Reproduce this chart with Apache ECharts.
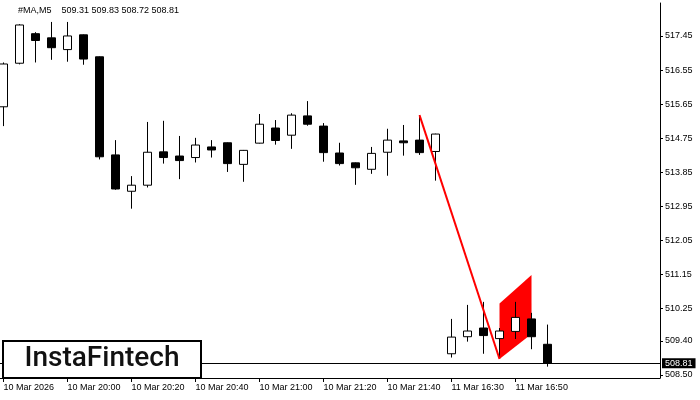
<!DOCTYPE html>
<html><head><meta charset="utf-8">
<script src="https://cdn.jsdelivr.net/npm/echarts@6/dist/echarts.min.js"></script>
<style>html,body{margin:0;padding:0;background:#fff}#c{width:700px;height:400px}</style>
</head><body><div id="c"></div>
<script>
// ---- data ----
const opens  = [515.58,516.73,517.51,517.40,517.09,517.48,516.90,514.31,513.35,513.51,514.39,514.28,514.24,514.52,514.63,514.06,514.62,515.02,514.83,515.34,515.07,514.36,514.10,513.93,514.38,514.68,514.70,514.40,509.06,509.51,509.74,509.46,509.65,509.98,509.31];
const closes = [516.71,517.74,517.33,517.14,517.45,516.84,514.26,513.41,513.51,514.38,514.24,514.16,514.57,514.44,514.08,514.43,515.12,514.69,515.36,515.12,514.37,514.08,513.97,514.35,514.70,514.63,514.37,514.86,509.50,509.66,509.54,509.66,510.02,509.51,508.81];
const lows   = [515.07,516.70,516.75,516.82,516.77,516.69,514.19,513.39,512.89,513.45,514.08,513.67,514.11,514.24,513.86,513.60,514.61,514.58,514.47,515.08,514.13,514.03,513.52,513.81,513.76,514.29,514.31,513.63,508.96,509.38,509.06,508.95,509.45,509.18,508.72];
const highs  = [516.75,517.76,517.55,517.82,517.82,517.49,516.91,514.70,513.75,515.18,515.21,514.81,514.76,514.70,514.64,514.44,515.39,515.23,515.41,515.73,515.15,514.63,514.11,514.52,515.00,515.10,515.36,514.87,509.98,510.35,510.43,509.74,510.43,510.14,509.83];
const timeTickIdx = [0,4,8,12,16,20,24,28,32];
const timeTickLabels = ['10 Mar 2026','10 Mar 20:00','10 Mar 20:20','10 Mar 20:40','10 Mar 21:00','10 Mar 21:20','10 Mar 21:40','11 Mar 16:30','11 Mar 16:50'];
const priceTicks = [508.50,509.40,510.25,511.15,512.05,512.95,513.85,514.75,515.65,516.55,517.45];
const lastPrice = 508.81;
const titleText = '#MA,M5    509.31 509.83 508.72 508.81';
const poleX = [26, 31];
const poleY = [515.36, 508.92];
const flagX = [31, 31, 33, 33];
const flagY = [508.92, 510.39, 511.14, 509.58];

// ---- chart ----
const FONT = '"Liberation Sans", Arial, sans-serif';
const candleData = opens.map((o, i) => [i, o, closes[i], lows[i], highs[i]]);
const chart = echarts.init(document.getElementById('c'), null, {renderer: 'canvas'});
chart.setOption({
  animation: false,
  backgroundColor: '#fff',
  title: {text: titleText, left: 18, top: 6, padding: 0,
    textStyle: {fontSize: 9, fontWeight: 'normal', color: '#000', fontFamily: FONT}},
  grid: {left: 0, right: 40, top: 3, bottom: 22},
  xAxis: {
    type: 'value', min: -0.22, max: 41.03,
    axisLine: {show: true, onZero: false, lineStyle: {color: '#000', width: 1}},
    splitLine: {show: false},
    axisTick: {show: true, length: 4, lineStyle: {color: '#000'}, customValues: timeTickIdx},
    axisLabel: {show: true, customValues: timeTickIdx, align: 'left', margin: 5,
      fontSize: 9, color: '#000', fontFamily: FONT,
      formatter: v => timeTickLabels[timeTickIdx.indexOf(Math.round(v))] || ''}
  },
  yAxis: {
    type: 'value', position: 'right', min: 508.42, max: 518.32,
    axisLine: {show: true, onZero: false, lineStyle: {color: '#000', width: 1}},
    splitLine: {show: false},
    axisTick: {show: true, length: 3, lineStyle: {color: '#000'}, customValues: priceTicks},
    axisLabel: {show: true, customValues: priceTicks, margin: 5, fontSize: 9, color: '#000',
      fontFamily: FONT, formatter: v => v.toFixed(2)}
  },
  series: [
    {
      type: 'custom', z: 1, silent: true,
      renderItem: (params, api) => {
        const pts = flagX.map((x, i) => api.coord([x, flagY[i]]));
        return {type: 'polygon', shape: {points: pts}, style: {fill: '#ff0000'}};
      },
      data: [[flagX[0], flagY[0]]]
    },
    {
      type: 'candlestick', z: 2,
      data: candleData,
      encode: {x: 0, y: [1, 2, 3, 4]},
      barWidth: 9,
      itemStyle: {color: '#ffffff', color0: '#000000', borderColor: '#000000', borderColor0: '#000000', borderWidth: 1},
      markLine: {
        symbol: 'none', silent: true, animation: false,
        lineStyle: {color: '#000', width: 1, type: 'solid'},
        label: {show: true, position: 'end', formatter: lastPrice.toFixed(2), color: '#fff',
          backgroundColor: '#000', padding: [1, 3, 0, 3], fontSize: 9, fontFamily: FONT, distance: 2},
        data: [{yAxis: lastPrice}]
      }
    },
    {
      type: 'line', z: 3, silent: true, symbol: 'none',
      data: poleX.map((x, i) => [x, poleY[i]]),
      lineStyle: {color: '#ff0000', width: 2}
    }
  ],
  graphic: [
    {type: 'rect', z: 100, shape: {x: 3, y: 341, width: 198, height: 37},
      style: {fill: '#fff', stroke: '#000', lineWidth: 2}},
    {type: 'text', z: 101, x: 102, y: 359,
      style: {text: 'InstaFintech', fill: '#111', font: '500 28px Roboto', textAlign: 'center', textVerticalAlign: 'middle'}}
  ]
});
</script>
</body></html>
